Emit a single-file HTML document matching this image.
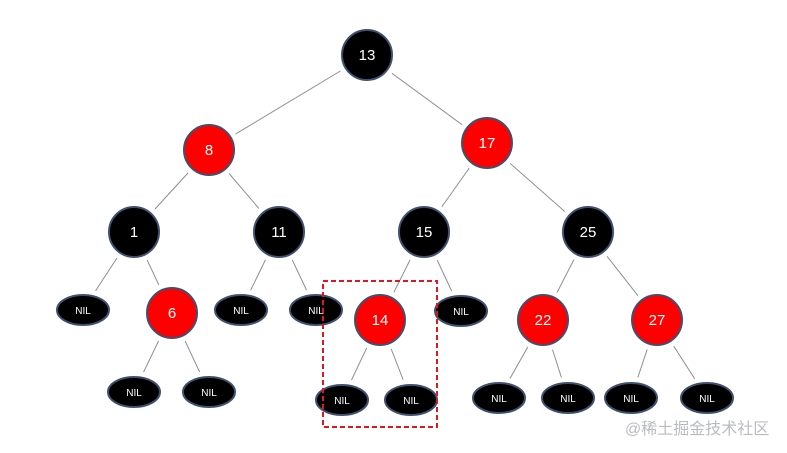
<!DOCTYPE html>
<html><head><meta charset="utf-8"><style>
html,body{margin:0;padding:0;background:#fff;}
svg{display:block}
text{font-family:"Liberation Sans","DejaVu Sans",sans-serif;}
</style></head><body>
<svg width="787" height="453" viewBox="0 0 787 453" xmlns="http://www.w3.org/2000/svg">
<g stroke="#8a8f96" stroke-width="1">
<line x1="367" y1="55" x2="209" y2="150"/>
<line x1="367" y1="55" x2="487" y2="143"/>
<line x1="209" y1="150" x2="134" y2="232"/>
<line x1="209" y1="150" x2="279" y2="232"/>
<line x1="487" y1="143" x2="424" y2="232"/>
<line x1="487" y1="143" x2="588" y2="232"/>
<line x1="134" y1="232" x2="83" y2="310"/>
<line x1="134" y1="232" x2="172" y2="313"/>
<line x1="279" y1="232" x2="241" y2="310"/>
<line x1="279" y1="232" x2="316" y2="310"/>
<line x1="424" y1="232" x2="380" y2="320"/>
<line x1="424" y1="232" x2="461" y2="311"/>
<line x1="588" y1="232" x2="543" y2="320"/>
<line x1="588" y1="232" x2="657" y2="320"/>
<line x1="172" y1="313" x2="134" y2="392"/>
<line x1="172" y1="313" x2="209" y2="392"/>
<line x1="380" y1="320" x2="342" y2="400"/>
<line x1="380" y1="320" x2="411" y2="400"/>
<line x1="543" y1="320" x2="499" y2="398"/>
<line x1="543" y1="320" x2="568" y2="398"/>
<line x1="657" y1="320" x2="631" y2="398"/>
<line x1="657" y1="320" x2="707" y2="398"/>
</g>
<g fill="#fff">
<circle cx="367" cy="55" r="31"/><circle cx="209" cy="150" r="31"/><circle cx="487" cy="143" r="31"/>
<circle cx="134" cy="232" r="31"/><circle cx="279" cy="232" r="31"/><circle cx="424" cy="232" r="31"/><circle cx="588" cy="232" r="31"/>
<circle cx="172" cy="313" r="31"/><circle cx="380" cy="320" r="31"/><circle cx="543" cy="320" r="31"/><circle cx="657" cy="320" r="31"/>
<ellipse cx="83" cy="310" rx="31" ry="21"/><ellipse cx="241" cy="310" rx="31" ry="21"/><ellipse cx="316" cy="310" rx="31" ry="21"/><ellipse cx="461" cy="311" rx="31" ry="21"/>
<ellipse cx="134" cy="392" rx="31" ry="21"/><ellipse cx="209" cy="392" rx="31" ry="21"/><ellipse cx="342" cy="400" rx="31" ry="21"/><ellipse cx="411" cy="400" rx="31" ry="21"/>
<ellipse cx="499" cy="398" rx="31" ry="21"/><ellipse cx="568" cy="398" rx="31" ry="21"/><ellipse cx="631" cy="398" rx="31" ry="21"/><ellipse cx="707" cy="398" rx="31" ry="21"/>
</g>
<g stroke="#3f5170" stroke-width="2">
<circle cx="367" cy="55" r="25" fill="#000"/>
<circle cx="209" cy="150" r="25" fill="#f00"/>
<circle cx="487" cy="143" r="25" fill="#f00"/>
<circle cx="134" cy="232" r="25" fill="#000"/>
<circle cx="279" cy="232" r="25" fill="#000"/>
<circle cx="424" cy="232" r="25" fill="#000"/>
<circle cx="588" cy="232" r="25" fill="#000"/>
<circle cx="172" cy="313" r="25" fill="#f00"/>
<circle cx="380" cy="320" r="25" fill="#f00"/>
<circle cx="543" cy="320" r="25" fill="#f00"/>
<circle cx="657" cy="320" r="25" fill="#f00"/>
<g fill="#000">
<ellipse cx="83" cy="310" rx="26" ry="15"/><ellipse cx="241" cy="310" rx="26" ry="15"/><ellipse cx="316" cy="310" rx="26" ry="15"/><ellipse cx="461" cy="311" rx="26" ry="15"/>
<ellipse cx="134" cy="392" rx="26" ry="15"/><ellipse cx="209" cy="392" rx="26" ry="15"/><ellipse cx="342" cy="400" rx="26" ry="15"/><ellipse cx="411" cy="400" rx="26" ry="15"/>
<ellipse cx="499" cy="398" rx="26" ry="15"/><ellipse cx="568" cy="398" rx="26" ry="15"/><ellipse cx="631" cy="398" rx="26" ry="15"/><ellipse cx="707" cy="398" rx="26" ry="15"/>
</g>
</g>
<g fill="#fff" font-size="15" text-anchor="middle">
<text x="367" y="60">13</text><text x="209" y="155">8</text><text x="487" y="148">17</text>
<text x="134" y="237">1</text><text x="279" y="237">11</text><text x="424" y="237">15</text><text x="588" y="237">25</text>
<text x="172" y="318">6</text><text x="380" y="325">14</text><text x="543" y="325">22</text><text x="657" y="325">27</text>
</g>
<g fill="#fff" font-size="10" text-anchor="middle">
<text x="83" y="314">NIL</text><text x="241" y="314">NIL</text><text x="316" y="314">NIL</text><text x="461" y="315">NIL</text>
<text x="134" y="396">NIL</text><text x="209" y="396">NIL</text><text x="342" y="404">NIL</text><text x="411" y="404">NIL</text>
<text x="499" y="402">NIL</text><text x="568" y="402">NIL</text><text x="631" y="402">NIL</text><text x="707" y="402">NIL</text>
</g>
<rect x="323" y="281" width="114" height="146" fill="none" stroke="#e8141c" stroke-width="2" stroke-dasharray="5,3"/>
<text x="625" y="434" font-size="16" fill="#b8bcc2" style='font-family:"Liberation Sans","Noto Sans CJK SC",sans-serif'>@稀土掘金技术社区</text>
</svg>
</body></html>
